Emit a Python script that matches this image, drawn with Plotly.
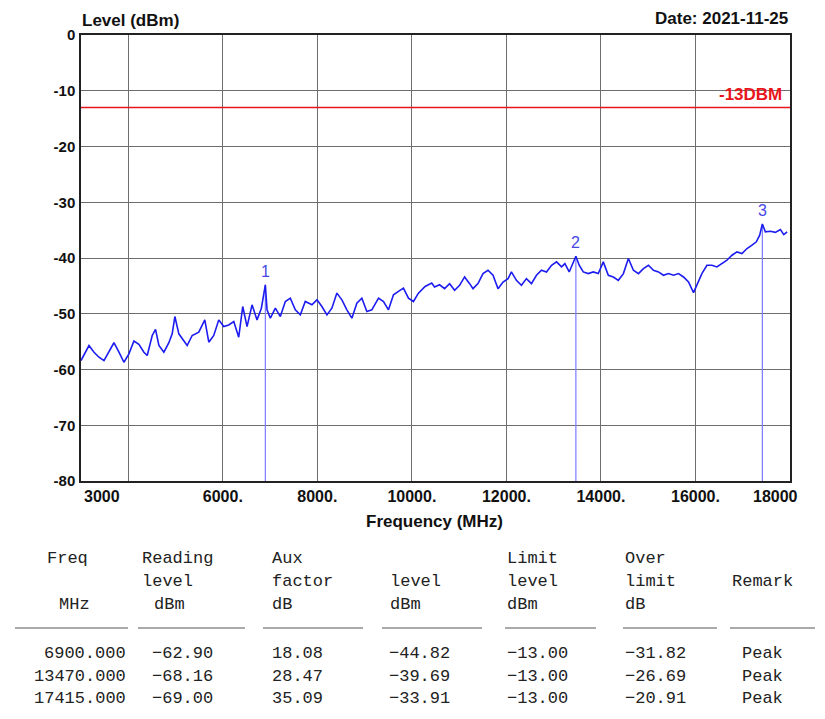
import plotly.graph_objects as go

# ---------------- data ----------------
freq_mhz = [3000, 3169, 3275, 3380, 3486, 3592, 3697, 3803, 3908, 4014, 4120, 4225, 4331, 4401,
            4507, 4577, 4648, 4753, 4859, 4929, 4986, 5070, 5140, 5246, 5352, 5492, 5619, 5704,
            5809, 5915, 6020, 6126, 6232, 6337, 6422, 6513, 6619, 6724, 6816, 6900, 6936, 7006,
            7112, 7217, 7323, 7428, 7534, 7640, 7745, 7886, 7992, 8097, 8203, 8308, 8414, 8520,
            8625, 8731, 8836, 8942, 9048, 9153, 9294, 9400, 9505, 9611, 9716, 9822, 9928, 10033,
            10139, 10280, 10420, 10480, 10586, 10692, 10798, 10904, 11010, 11116, 11222, 11293,
            11399, 11505, 11611, 11717, 11823, 11929, 12035, 12106, 12212, 12318, 12424, 12530,
            12636, 12742, 12848, 12955, 13061, 13167, 13237, 13329, 13470, 13540, 13626, 13732,
            13838, 13944, 14050, 14156, 14262, 14368, 14475, 14581, 14687, 14793, 14899, 15005,
            15111, 15217, 15323, 15429, 15535, 15641, 15747, 15853, 15959, 16030, 16136, 16242,
            16348, 16454, 16560, 16666, 16772, 16878, 16984, 17090, 17196, 17288, 17359, 17415,
            17479, 17585, 17691, 17797, 17868, 17939]
level_dbm = [-58.4, -55.7, -56.9, -57.8, -58.4, -56.9, -55.2, -56.9, -58.7, -57.2, -54.9, -55.5, -56.9, -57.5,
             -53.9, -52.8, -55.7, -56.9, -55.2, -53.6, -50.5, -53.6, -54.5, -55.7, -53.9, -53.3, -51.1, -55.1,
             -53.9, -51.1, -52.3, -52.0, -51.4, -54.2, -48.7, -52.3, -48.4, -51.1, -49.0, -44.82, -49.3, -50.8,
             -49.0, -50.5, -47.8, -47.2, -49.3, -50.2, -47.8, -48.4, -47.5, -48.7, -50.2, -49.0, -46.3, -47.5,
             -49.3, -50.8, -48.1, -47.2, -49.6, -49.3, -47.2, -47.8, -49.3, -46.6, -46.0, -45.4, -47.2, -47.8,
             -46.3, -45.1, -44.5, -45.2, -44.8, -45.5, -44.6, -45.8, -44.9, -43.4, -44.6, -45.5,
             -44.6, -42.8, -42.2, -43.1, -45.5, -44.3, -43.7, -42.5, -44.0, -44.9, -43.7, -44.6,
             -43.1, -42.2, -42.5, -41.3, -40.7, -41.6, -41.0, -42.5, -39.69, -41.3, -42.5, -42.8,
             -42.5, -42.8, -40.7, -43.1, -43.4, -44.0, -42.8, -40.1, -42.2, -42.8, -41.9, -41.3,
             -42.2, -42.5, -43.1, -42.8, -43.1, -42.8, -43.4, -44.3, -46.2, -44.9, -42.8, -41.3,
             -41.3, -41.6, -41.0, -40.4, -39.5, -38.9, -39.2, -38.3, -37.7, -37.1, -35.9, -33.91,
             -35.3, -35.2, -35.4, -34.9, -35.8, -35.3]

limit_dbm = -13.0
limit_label = "-13DBM"

marker_ids = ["1", "2", "3"]
marker_freq = [6900.000, 13470.000, 17415.000]
reading_level = [-62.90, -68.16, -69.00]
aux_factor = [18.08, 28.47, 35.09]
marker_level = [-44.82, -39.69, -33.91]
limit_level = [-13.00, -13.00, -13.00]
over_limit = [-31.82, -26.69, -20.91]
remark = ["Peak", "Peak", "Peak"]

x_tickvals = [4000, 6000, 8000, 10000, 12000, 14000, 16000]
x_ticktext = ["", "6000.", "8000.", "10000.", "12000.", "14000.", "16000."]
y_tickvals = [0, -10, -20, -30, -40, -50, -60, -70, -80]
y_ticktext = ["0", "-10", "-20", "-30", "-40", "-50", "-60", "-70", "-80"]

# ---------------- layout geometry ----------------
# the page body adds an 8px offset; work in screen (reference) pixels
OFF = 8
W, H = 825 - OFF, 719 - OFF
L_SCR, R_SCR, T_SCR, B_SCR = 81, 790, 35, 481        # plot box on screen
ML, MR, MT, MB = L_SCR - OFF, W - (R_SCR - OFF), T_SCR - OFF, H - (B_SCR - OFF)
PW, PH = W - ML - MR, H - MT - MB


def px(x):
    return (x - L_SCR) / PW


def py(y):
    return (B_SCR - y) / PH


SANS = "Liberation Sans"
MONO = "Liberation Mono"

fig = go.Figure()

# marker vertical lines
for f, lv in zip(marker_freq, marker_level):
    fig.add_trace(go.Scatter(x=[f, f], y=[lv, -80], mode="lines",
                             line=dict(color="#7b7bff", width=1.2),
                             hoverinfo="skip", showlegend=False))

# limit line
fig.add_trace(go.Scatter(x=[3000, 18000], y=[limit_dbm, limit_dbm], mode="lines",
                         line=dict(color="#e8161b", width=1.5), showlegend=False))

# spectrum trace
fig.add_trace(go.Scatter(x=freq_mhz, y=level_dbm, mode="lines",
                         line=dict(color="#1c1cf0", width=1.6), showlegend=False))

ann = []
# marker numbers
for mid, f, lv in zip(marker_ids, marker_freq, marker_level):
    ann.append(dict(x=f, y=lv, xref="x", yref="y", text=mid, showarrow=False,
                    yanchor="bottom", yshift=3,
                    font=dict(family=SANS, size=16, color="#4747e6")))

# limit label
ann.append(dict(x=18000, y=limit_dbm, xref="x", yref="y", text=limit_label, showarrow=False,
                xanchor="right", yanchor="bottom", xshift=-6, yshift=1,
                font=dict(family=SANS, size=17, color="#e8161b", weight="bold")))

# titles
ann.append(dict(x=px(80), y=py(20), xref="paper", yref="paper", text="Level (dBm)",
                showarrow=False, xanchor="left", yanchor="middle",
                font=dict(family=SANS, size=17, color="#111", weight="bold")))
ann.append(dict(x=px(790), y=py(18), xref="paper", yref="paper", text="Date: 2021-11-25",
                showarrow=False, xanchor="right", yanchor="middle",
                font=dict(family=SANS, size=17, color="#111", weight="bold")))
ann.append(dict(x=px(434), y=py(521), xref="paper", yref="paper", text="Frequency (MHz)",
                showarrow=False, xanchor="center", yanchor="middle",
                font=dict(family=SANS, size=17, color="#111", weight="bold")))
# end tick labels
ann.append(dict(x=3000, y=py(496), xref="x", yref="paper", text="3000", showarrow=False,
                xanchor="left", yanchor="middle", xshift=1,
                font=dict(family=SANS, size=16, color="#111", weight="bold")))
ann.append(dict(x=18000, y=py(496), xref="x", yref="paper", text="18000", showarrow=False,
                xanchor="right", yanchor="middle", xshift=10,
                font=dict(family=SANS, size=16, color="#111", weight="bold")))

# ---------------- table ----------------
TF = dict(family=MONO, size=17, color="#222")


def cell(x, y, text, anchor="left"):
    ann.append(dict(x=px(x), y=py(y), xref="paper", yref="paper", text=text,
                    showarrow=False, xanchor=anchor, yanchor="middle", font=TF))


headers = [
    (45, 558, "Freq"), (140, 558, "Reading"), (270, 558, "Aux"), (505, 558, "Limit"), (623, 558, "Over"),
    (140, 581, "level"), (270, 581, "factor"), (388, 581, "level"), (505, 581, "level"),
    (623, 581, "limit"), (730, 581, "Remark"),
    (57, 604, "MHz"), (152, 604, "dBm"), (270, 604, "dB"), (388, 604, "dBm"), (505, 604, "dBm"),
    (623, 604, "dB"),
]
for x, y, t in headers:
    cell(x, y, t)


def fmt(v):
    return f"{v:.2f}".replace("-", "\u2212")


row_y = [653, 676, 698]
for i in range(len(marker_freq)):
    y = row_y[i]
    cell(128, y, f"{marker_freq[i]:.3f}", anchor="right")
    cell(150, y, fmt(reading_level[i]))
    cell(270, y, fmt(aux_factor[i]))
    cell(387, y, fmt(marker_level[i]))
    cell(505, y, fmt(limit_level[i]))
    cell(623, y, fmt(over_limit[i]))
    cell(740, y, remark[i])

shapes = []
for x0, x1 in [(15, 128), (138, 245), (263, 363), (382, 482), (505, 596), (623, 717), (730, 815)]:
    shapes.append(dict(type="line", xref="paper", yref="paper", x0=px(x0), x1=px(x1),
                       y0=py(628), y1=py(628), line=dict(color="#555", width=1)))

fig.update_layout(
    width=W, height=H,
    margin=dict(l=ML, r=MR, t=MT, b=MB),
    paper_bgcolor="white", plot_bgcolor="white",
    annotations=ann, shapes=shapes,
    showlegend=False,
)
fig.update_xaxes(range=[3000, 18000], tickvals=x_tickvals, ticktext=x_ticktext,
                 showgrid=True, gridcolor="#6e6e6e", gridwidth=1,
                 showline=True, linecolor="#222", linewidth=1.5, mirror=True,
                 ticks="", zeroline=False,
                 tickfont=dict(family=SANS, size=16, color="#111", weight="bold"))
fig.update_yaxes(range=[-80, 0], tickvals=y_tickvals, ticktext=y_ticktext,
                 showgrid=True, gridcolor="#6e6e6e", gridwidth=1,
                 showline=True, linecolor="#222", linewidth=1.5, mirror=True,
                 ticks="", zeroline=False, ticklabelstandoff=1,
                 tickfont=dict(family=SANS, size=15, color="#111", weight="bold"))

fig.write_html("out.html")
